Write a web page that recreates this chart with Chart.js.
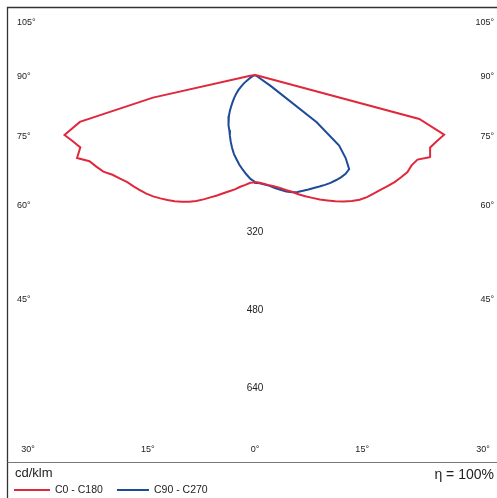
<!DOCTYPE html>
<html>
<head>
<meta charset="utf-8">
<script src="https://cdn.jsdelivr.net/npm/chart.js@4/dist/chart.umd.min.js"></script>
<style>
  html,body{margin:0;padding:0;background:#fff;}
  body{width:497px;height:498px;position:relative;overflow:hidden;font-family:"Liberation Sans",Arial,sans-serif;}
  #c{position:absolute;left:0;top:0;}
  .t{position:absolute;color:#222;white-space:nowrap;}
  .sw{position:absolute;height:2px;}
</style>
</head>
<body>
<canvas id="c" width="497" height="498"></canvas>
<div class="t" id="unit" style="left:15px;top:465px;font-size:13px;"></div>
<div class="t" id="eta" style="right:3px;top:466px;font-size:14px;"></div>
<div class="sw" id="sw0" style="left:14px;top:489px;width:36px;"></div>
<div class="t" id="lg0" style="left:55px;top:483px;font-size:10.5px;"></div>
<div class="sw" id="sw1" style="left:117px;top:489px;width:32px;"></div>
<div class="t" id="lg1" style="left:154px;top:483px;font-size:10.5px;"></div>
<script>
// ---- data (angles in degrees from nadir, intensities in cd/klm) ----
const angles = [0,2.5,5,7.5,10,12.5,15,17.5,20,22.5,25,27.5,30,32.5,35,37.5,40,42.5,45,47.5,50,52.5,55,57.5,60,62.5,65,67.5,70,72.5,75,77.5,80,82.5,85,87.5,90];
const c0   = [220,222,225,229,233,238,245,252,261,270,279,289,298,308,318,327,335,341,345,350,356,362,367,372,372,377,399,390,398,408,350,5,0,0,0,0,0];
const c180 = [221,222,227,232,239,245,252,260,268,277,286,294,301,308,314,320,326,331,335,339,343,350,358,370,377,384,404,389,399,411,373,215,10,3,0,0,0];
const c90  = [222,223,226,230,236,242,248,253,256,258,260,262,265,268,271,273,275,276,274,253,226,160,40,5,0,0,0,0,0,0,0,0,0,0,0,0,0];
const c270 = [220,214,205,196,187,177,168,157,146,135,125,117,110,100,90,80,71,63,55,47,38,30,22,15,10,6,3,1,0,0,0,0,0,0,0,0,0];
const seriesNames = ["C0 - C180","C90 - C270"];
const sideAngleTicks = [105,90,75,60,45];
const bottomAngleTicks = [-30,-15,0,15,30];
const radialTicks = [320,480,640];
const unitLabel = "cd/klm";
const etaLabel = "\u03B7 = 100%";

// ---- build polar polylines ----
const rad = d => d*Math.PI/180;
function curve(left, right){
  const pts = [];
  for(let i=angles.length-1;i>=0;i--){ pts.push({x:-left[i]*Math.sin(rad(angles[i])), y:-left[i]*Math.cos(rad(angles[i]))}); }
  for(let i=0;i<angles.length;i++){ pts.push({x:right[i]*Math.sin(rad(angles[i])), y:-right[i]*Math.cos(rad(angles[i]))}); }
  return pts;
}
const colors = ["#e0283c","#1d4b98"];

// ---- geometry: origin pixel (255,75), 0.486 px per cd ----
const K = 0.486, CX = 255, CY = 75, AL = 7, AT = 7, AR = 497, AB = 462;
const xMin = (AL-CX)/K, xMax = (AR-CX)/K, yMax = (CY-AT)/K, yMin = -(AB-CY)/K;

const labelsPlugin = {
  id:'polarLabels',
  afterDraw(chart){
    const ctx = chart.ctx, xs = chart.scales.x, ys = chart.scales.y;
    ctx.save();
    // frame
    ctx.strokeStyle = "#333"; ctx.lineWidth = 1.3;
    ctx.beginPath();
    ctx.moveTo(7.5,498); ctx.lineTo(7.5,7.5); ctx.lineTo(497,7.5);
    ctx.stroke();
    ctx.strokeStyle = "#777"; ctx.lineWidth = 1;
    ctx.beginPath(); ctx.moveTo(7.5,462.5); ctx.lineTo(497,462.5); ctx.stroke();
    ctx.fillStyle = "#222";
    ctx.font = '9px "Liberation Sans", Arial, sans-serif';
    ctx.textBaseline = "middle";
    const D = 223/K;
    sideAngleTicks.forEach(a=>{
      let py = ys.getPixelForValue(-D*Math.cos(rad(a))/Math.sin(rad(a))) + 2;
      py = Math.max(py, 23);
      ctx.textAlign = "left";  ctx.fillText(a+"°", 17, py);
      ctx.textAlign = "right"; ctx.fillText(a+"°", 494, py);
    });
    const H = 400/K;
    bottomAngleTicks.forEach(a=>{
      let px = xs.getPixelForValue(H*Math.tan(rad(a)));
      px = Math.min(Math.max(px, 28), 483);
      ctx.textAlign = "center"; ctx.fillText(Math.abs(a)+"°", px, 450);
    });
    ctx.font = '10px "Liberation Sans", Arial, sans-serif';
    radialTicks.forEach(v=>{
      ctx.textAlign = "center";
      ctx.fillText(String(v), xs.getPixelForValue(0), ys.getPixelForValue(-v)+2);
    });
    ctx.restore();
  }
};

new Chart(document.getElementById('c'), {
  type:'scatter',
  data:{datasets:[
    {label:seriesNames[0], data:curve(c180,c0), showLine:true, borderColor:colors[0], borderWidth:2, pointRadius:0, tension:0, fill:false},
    {label:seriesNames[1], data:curve(c270,c90), showLine:true, borderColor:colors[1], borderWidth:2, pointRadius:0, tension:0, fill:false}
  ]},
  options:{
    responsive:false, animation:false, devicePixelRatio:1,
    layout:{padding:{left:AL, top:AT, right:0, bottom:498-AB}},
    plugins:{legend:{display:false}, tooltip:{enabled:false}},
    scales:{
      x:{type:'linear', min:xMin, max:xMax, display:false},
      y:{type:'linear', min:yMin, max:yMax, display:false}
    }
  },
  plugins:[labelsPlugin]
});

document.getElementById('unit').textContent = unitLabel;
document.getElementById('eta').textContent = etaLabel;
document.getElementById('lg0').textContent = seriesNames[0];
document.getElementById('lg1').textContent = seriesNames[1];
document.getElementById('sw0').style.background = colors[0];
document.getElementById('sw1').style.background = colors[1];
</script>
</body>
</html>
